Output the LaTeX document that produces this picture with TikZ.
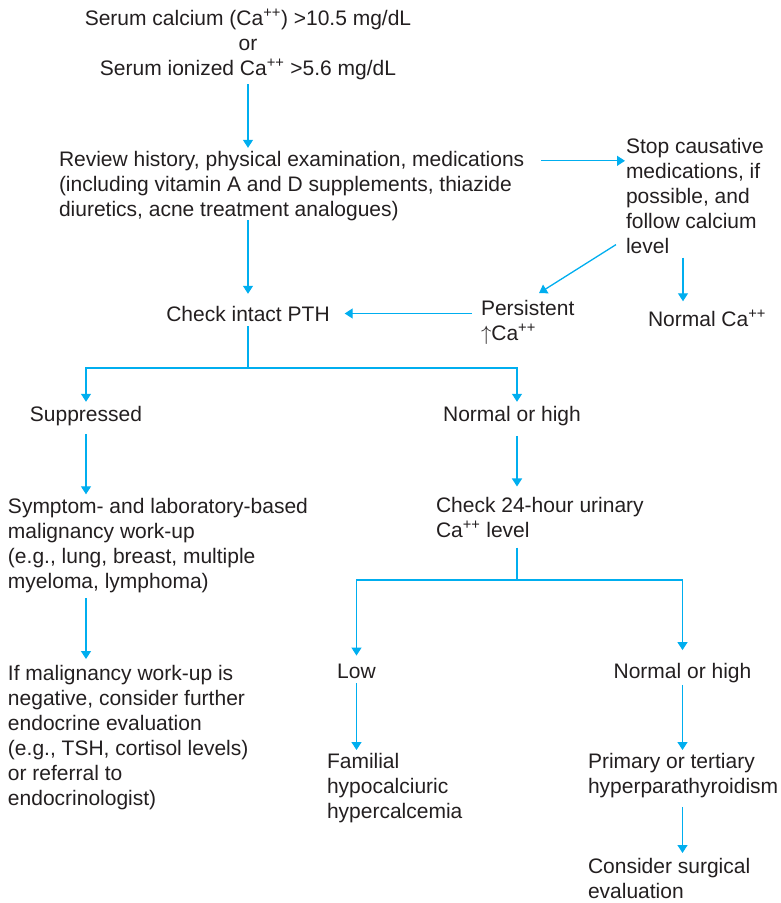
\documentclass[tikz,border=0pt]{standalone}
\usepackage{fontspec}
\setmainfont{Liberation Sans}
\usepackage{tikz}
\usetikzlibrary{arrows.meta,positioning}
\definecolor{flowblue}{RGB}{0,174,239}
\definecolor{txtgray}{RGB}{35,31,32}
\newcommand{\Capp}{Ca\textsuperscript{++}}

\begin{document}
\begin{tikzpicture}
        % styles: text nodes, arrows, plain lines
        [x=1pt,y=-1pt,
        TxtNode/.style={inner sep=0pt, outer sep=0pt, text=txtgray, font=\fontsize{21}{25}\selectfont, align=left, anchor=west},
        MidNode/.style={TxtNode, align=center, anchor=center},
        BaseNode/.style={TxtNode, anchor=base},
        FlowLine/.style={draw=flowblue, line width=1.3pt},
        FlowArrow/.style={FlowLine, -{Triangle[length=8pt,width=10pt]}}]

        % picture size
        \useasboundingbox (0,0) rectangle (781,903);

        % first row
        \node[MidNode] (a_1) at (248,44.5) {Serum calcium (\Capp) >10.5 mg/dL\\or\\Serum ionized \Capp{} >5.6 mg/dL};

        % second row
        \node[TxtNode] (b_1) at (59,185.6) {Review history, physical examination, medications\\(including vitamin A and D supplements, thiazide\\diuretics, acne treatment analogues)};
        \node[TxtNode] (b_2) at (626,195.9) {Stop causative\\medications, if\\possible, and\\follow calcium\\level};

        % third row
        \node[BaseNode] (c_1) at (248,321) {Check intact PTH};
        \node[TxtNode] (c_2) at (481,322) {Persistent\\$\uparrow$\Capp};
        \node[BaseNode, anchor=base west] (c_3) at (648,326) {Normal \Capp};

        % PTH result
        \node[BaseNode] (d_1) at (86,421) {Suppressed};
        \node[BaseNode] (d_2) at (512,421) {Normal or high};

        % left branch
        \node[TxtNode] (e_1) at (8,545.6) {Symptom- and laboratory-based\\malignancy work-up\\(e.g., lung, breast, multiple\\myeloma, lymphoma)};
        \node[TxtNode] (f_1) at (8,738) {If malignancy work-up is\\negative, consider further\\endocrine evaluation\\(e.g., TSH, cortisol levels)\\or referral to\\endocrinologist)};

        % right branch
        \node[TxtNode] (e_2) at (436,517.4) {Check 24-hour urinary\\\Capp{} level};
        \node[BaseNode] (f_2) at (356.5,678) {Low};
        \node[BaseNode] (f_3) at (682.5,678) {Normal or high};
        \node[TxtNode] (g_1) at (327,788.5) {Familial\\hypocalciuric\\hypercalcemia};
        \node[TxtNode] (g_2) at (588,776) {Primary or tertiary\\hyperparathyroidism};
        \node[TxtNode] (h_1) at (588,878.9) {Consider surgical\\evaluation};

        % branch points
        \coordinate (j_1) at (248,368);
        \coordinate (j_2) at (517,580);
        \coordinate (k_1) at ([xshift=57pt]b_2.south west);

        % straight arrows downwards
        \foreach \x/\y/\s/\t in {a_1/b_1/4.6/3, d_1/e_1/8.6/4, f_2/g_1/5/3.7, f_3/g_2/2.6/3.7}
            \draw[FlowArrow, shorten <=\s pt, shorten >=\t pt](\x.south)--(\x.south |- \y.north);

        % top part
        \draw[FlowArrow, shorten >=12pt](b_1.south -| c_1.north)--(c_1.north);
        \draw[FlowArrow, shorten <=17pt, shorten >=1pt]([yshift=-10pt]b_1.north east)--([yshift=-10pt]b_1.north east -| b_2.west);
        \draw[FlowArrow]([xshift=-10pt,yshift=9pt]b_2.south west)--([xshift=58pt,yshift=6.7pt]c_2.north west);
        \draw[FlowArrow, shorten <=4pt, shorten >=8.7pt](k_1)--(k_1 |- c_3.north);
        \draw[FlowArrow, shorten <=9pt, shorten >=15pt](c_1.east -| c_2.west)--(c_1.east);

        % PTH split
        \draw[FlowLine, shorten <=5pt](c_1.south)--(j_1);
        \draw[FlowArrow, shorten >=4pt](j_1)-|(d_1.north);
        \draw[FlowArrow, shorten >=4pt](j_1)-|([xshift=5pt]d_2.north);

        % left column
        \draw[FlowArrow, shorten <=5.6pt, shorten >=6.7pt](d_1.south |- e_1.south)--(d_1.south |- f_1.north);

        % right column
        \draw[FlowArrow, shorten <=10.6pt, shorten >=10.7pt](d_2.south -| j_2)--(j_2 |- e_2.north);
        \draw[FlowLine, shorten <=10pt](e_2.south -| j_2)--(j_2);
        \draw[FlowArrow, shorten >=8pt](j_2)-|(f_2.north);
        \draw[FlowArrow, shorten >=12.7pt](j_2)-|(f_3.north);
        \draw[FlowArrow, shorten <=8.6pt, shorten >=5.7pt](f_3.south |- g_2.south)--(f_3.south |- h_1.north);
    \end{tikzpicture}
\end{document}
